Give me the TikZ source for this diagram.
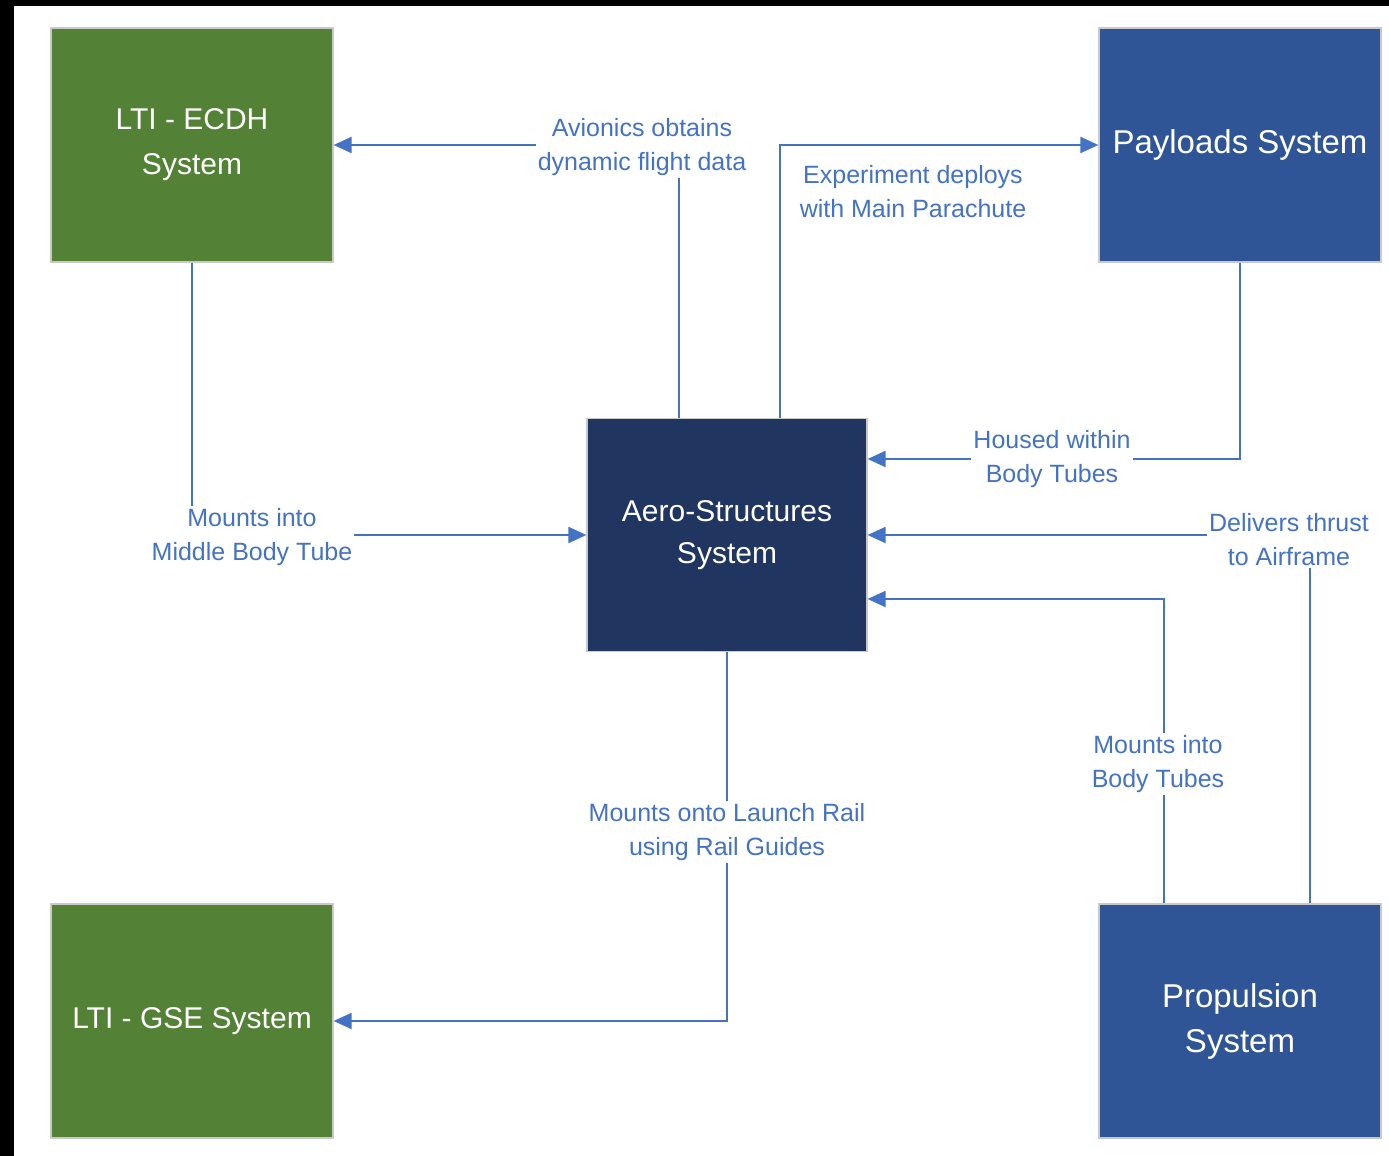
\documentclass[tikz,border=0pt]{standalone}
\usepackage{fontspec}
\setmainfont{Liberation Sans}
\usetikzlibrary{arrows.meta}
\definecolor{ltigreen}{HTML}{538135}
\definecolor{sysblue}{HTML}{2F5597}
\definecolor{aeronavy}{HTML}{213561}
\definecolor{linkblue}{HTML}{4472C4}
\definecolor{edgegray}{HTML}{C9C9C9}
\begin{document}
\begin{tikzpicture}[x=0.5pt,y=-0.5pt,
  sysbox/.style={draw=edgegray, line width=0.6pt, text=white, align=center,
    minimum width=141pt, minimum height=117pt, inner sep=0pt,
    font=\fontsize{15}{21}\selectfont},
  widelines/.style={font=\fontsize{15}{22.5}\selectfont},
  bigtext/.style={font=\fontsize{16.5}{22.5}\selectfont},
  conn/.style={draw=linkblue, line width=1pt, -{Triangle[length=9pt,width=8pt]}},
  lbl/.style={fill=white, text=linkblue, align=center, inner sep=1pt,
    font=\fontsize{12.5}{17}\selectfont}]

  % canvas and dark frame strips
  \useasboundingbox (0,0) rectangle (1389,1156);
  \fill[white] (0,0) rectangle (1389,1156);
  \fill[black] (0,0) rectangle (1389,6);
  \fill[black] (0,0) rectangle (14,1156);

  % subsystems
  \node[sysbox, fill=ltigreen, widelines] (ecdh) at (192,145) {LTI - ECDH\\System};
  \node[sysbox, fill=sysblue, bigtext] (pay) at (1240,145) {Payloads System};
  \node[sysbox, fill=aeronavy, minimum width=140pt, minimum height=116.5pt] (aero) at (727,535) {Aero-Structures\\System};
  \node[sysbox, fill=ltigreen] (gse) at (192,1021) {LTI - GSE System};
  \node[sysbox, fill=sysblue, bigtext] (prop) at (1240,1021) {Propulsion\\System};

  % interfaces
  \draw[conn] ([xshift=-24pt]aero.north) |- (ecdh.east);
  \draw[conn] ([xshift=26.5pt]aero.north) |- (pay.west);
  \draw[conn] (pay.south) |- ([yshift=38pt]aero.east);
  \draw[conn] ([xshift=35pt]prop.north) |- (aero.east);
  \draw[conn] ([xshift=-38pt]prop.north) |- ([yshift=-32pt]aero.east);
  \draw[conn] (ecdh.south) |- (aero.west);
  \draw[conn] (aero.south) |- (gse.east);

  % interface labels
  \node[lbl] (l1) at (642,147) {Avionics obtains\\dynamic flight data};
  \node[lbl] (l2) at (913,192) {Experiment deploys\\with Main Parachute};
  \node[lbl] (l3) at (1052,459) {Housed within\\Body Tubes};
  \node[lbl] (l4) at (1289,540) {Delivers thrust\\to Airframe};
  \node[lbl] (l5) at (1158,764) {Mounts into\\Body Tubes};
  \node[lbl] (l6) at (252,537) {Mounts into\\Middle Body Tube};
  \node[lbl] (l7) at (727,832) {Mounts onto Launch Rail\\using Rail Guides};
\end{tikzpicture}
\end{document}
